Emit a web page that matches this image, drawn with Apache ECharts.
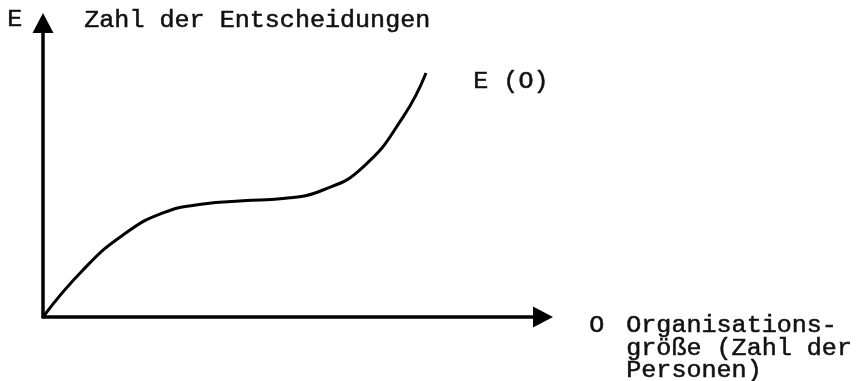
<!DOCTYPE html>
<html>
<head>
<meta charset="utf-8">
<script src="https://cdn.jsdelivr.net/npm/echarts@6/dist/echarts.min.js"></script>
<style>
  html, body { margin: 0; padding: 0; background: #fff; }
  #chart { width: 865px; height: 381px; }
</style>
</head>
<body>
<div id="chart"></div>
<script>
// Organisation size (arbitrary units) and number of decisions E(O)
const orgSize   = [0, 8, 16, 24, 32, 40, 48, 56, 64, 72, 76.6];
const decisions = [0, 16.0, 27.9, 35.4, 38.4, 39.5, 40.3, 43.2, 51.0, 68.0, 83.0];
const yAxisSymbol = 'E';
const yAxisTitle = 'Zahl der Entscheidungen';
const curveLabel = 'E (O)';
const xAxisSymbol = 'O';
const xAxisTitleLines = ['Organisations-', 'größe (Zahl der', 'Personen)'];

const FONT = '"Liberation Mono", "DejaVu Sans Mono", monospace';
const points = orgSize.map((x, i) => [x, decisions[i]]);

const chart = echarts.init(document.getElementById('chart'), null, { renderer: 'canvas' });

const axisCommon = {
  type: 'value',
  min: 0,
  max: 100,
  splitLine: { show: false },
  axisTick: { show: false },
  axisLabel: { show: false },
  axisLine: {
    show: true,
    onZero: false,
    symbol: ['none', 'triangle'],
    symbolSize: [21, 20],
    lineStyle: { color: '#000', width: 3.5 }
  }
};

const txt = (text, left, top) => ({
  type: 'text',
  left: left,
  top: top,
  scaleX: 1.09,
  style: {
    text: text,
    fill: '#111',
    stroke: '#111',
    lineWidth: 0.5,
    font: '23px ' + FONT,
    verticalAlign: 'top',
    align: 'left'
  }
});

chart.setOption({
  backgroundColor: '#fff',
  animation: false,
  grid: { left: 43, right: 322, top: 23, bottom: 64, outerBoundsMode: 'none' },
  xAxis: axisCommon,
  yAxis: axisCommon,
  series: [{
    type: 'line',
    data: points,
    smooth: 0.5,
    showSymbol: false,
    lineStyle: { color: '#000', width: 3 }
  }],
  graphic: [
    txt(yAxisSymbol, 7, 8),
    txt(yAxisTitle, 84, 9),
    txt(curveLabel, 473, 70),
    txt(xAxisSymbol, 589, 314),
    txt(xAxisTitleLines[0], 626, 314),
    txt(xAxisTitleLines[1], 626, 337),
    txt(xAxisTitleLines[2], 626, 359)
  ]
});
</script>
</body>
</html>
